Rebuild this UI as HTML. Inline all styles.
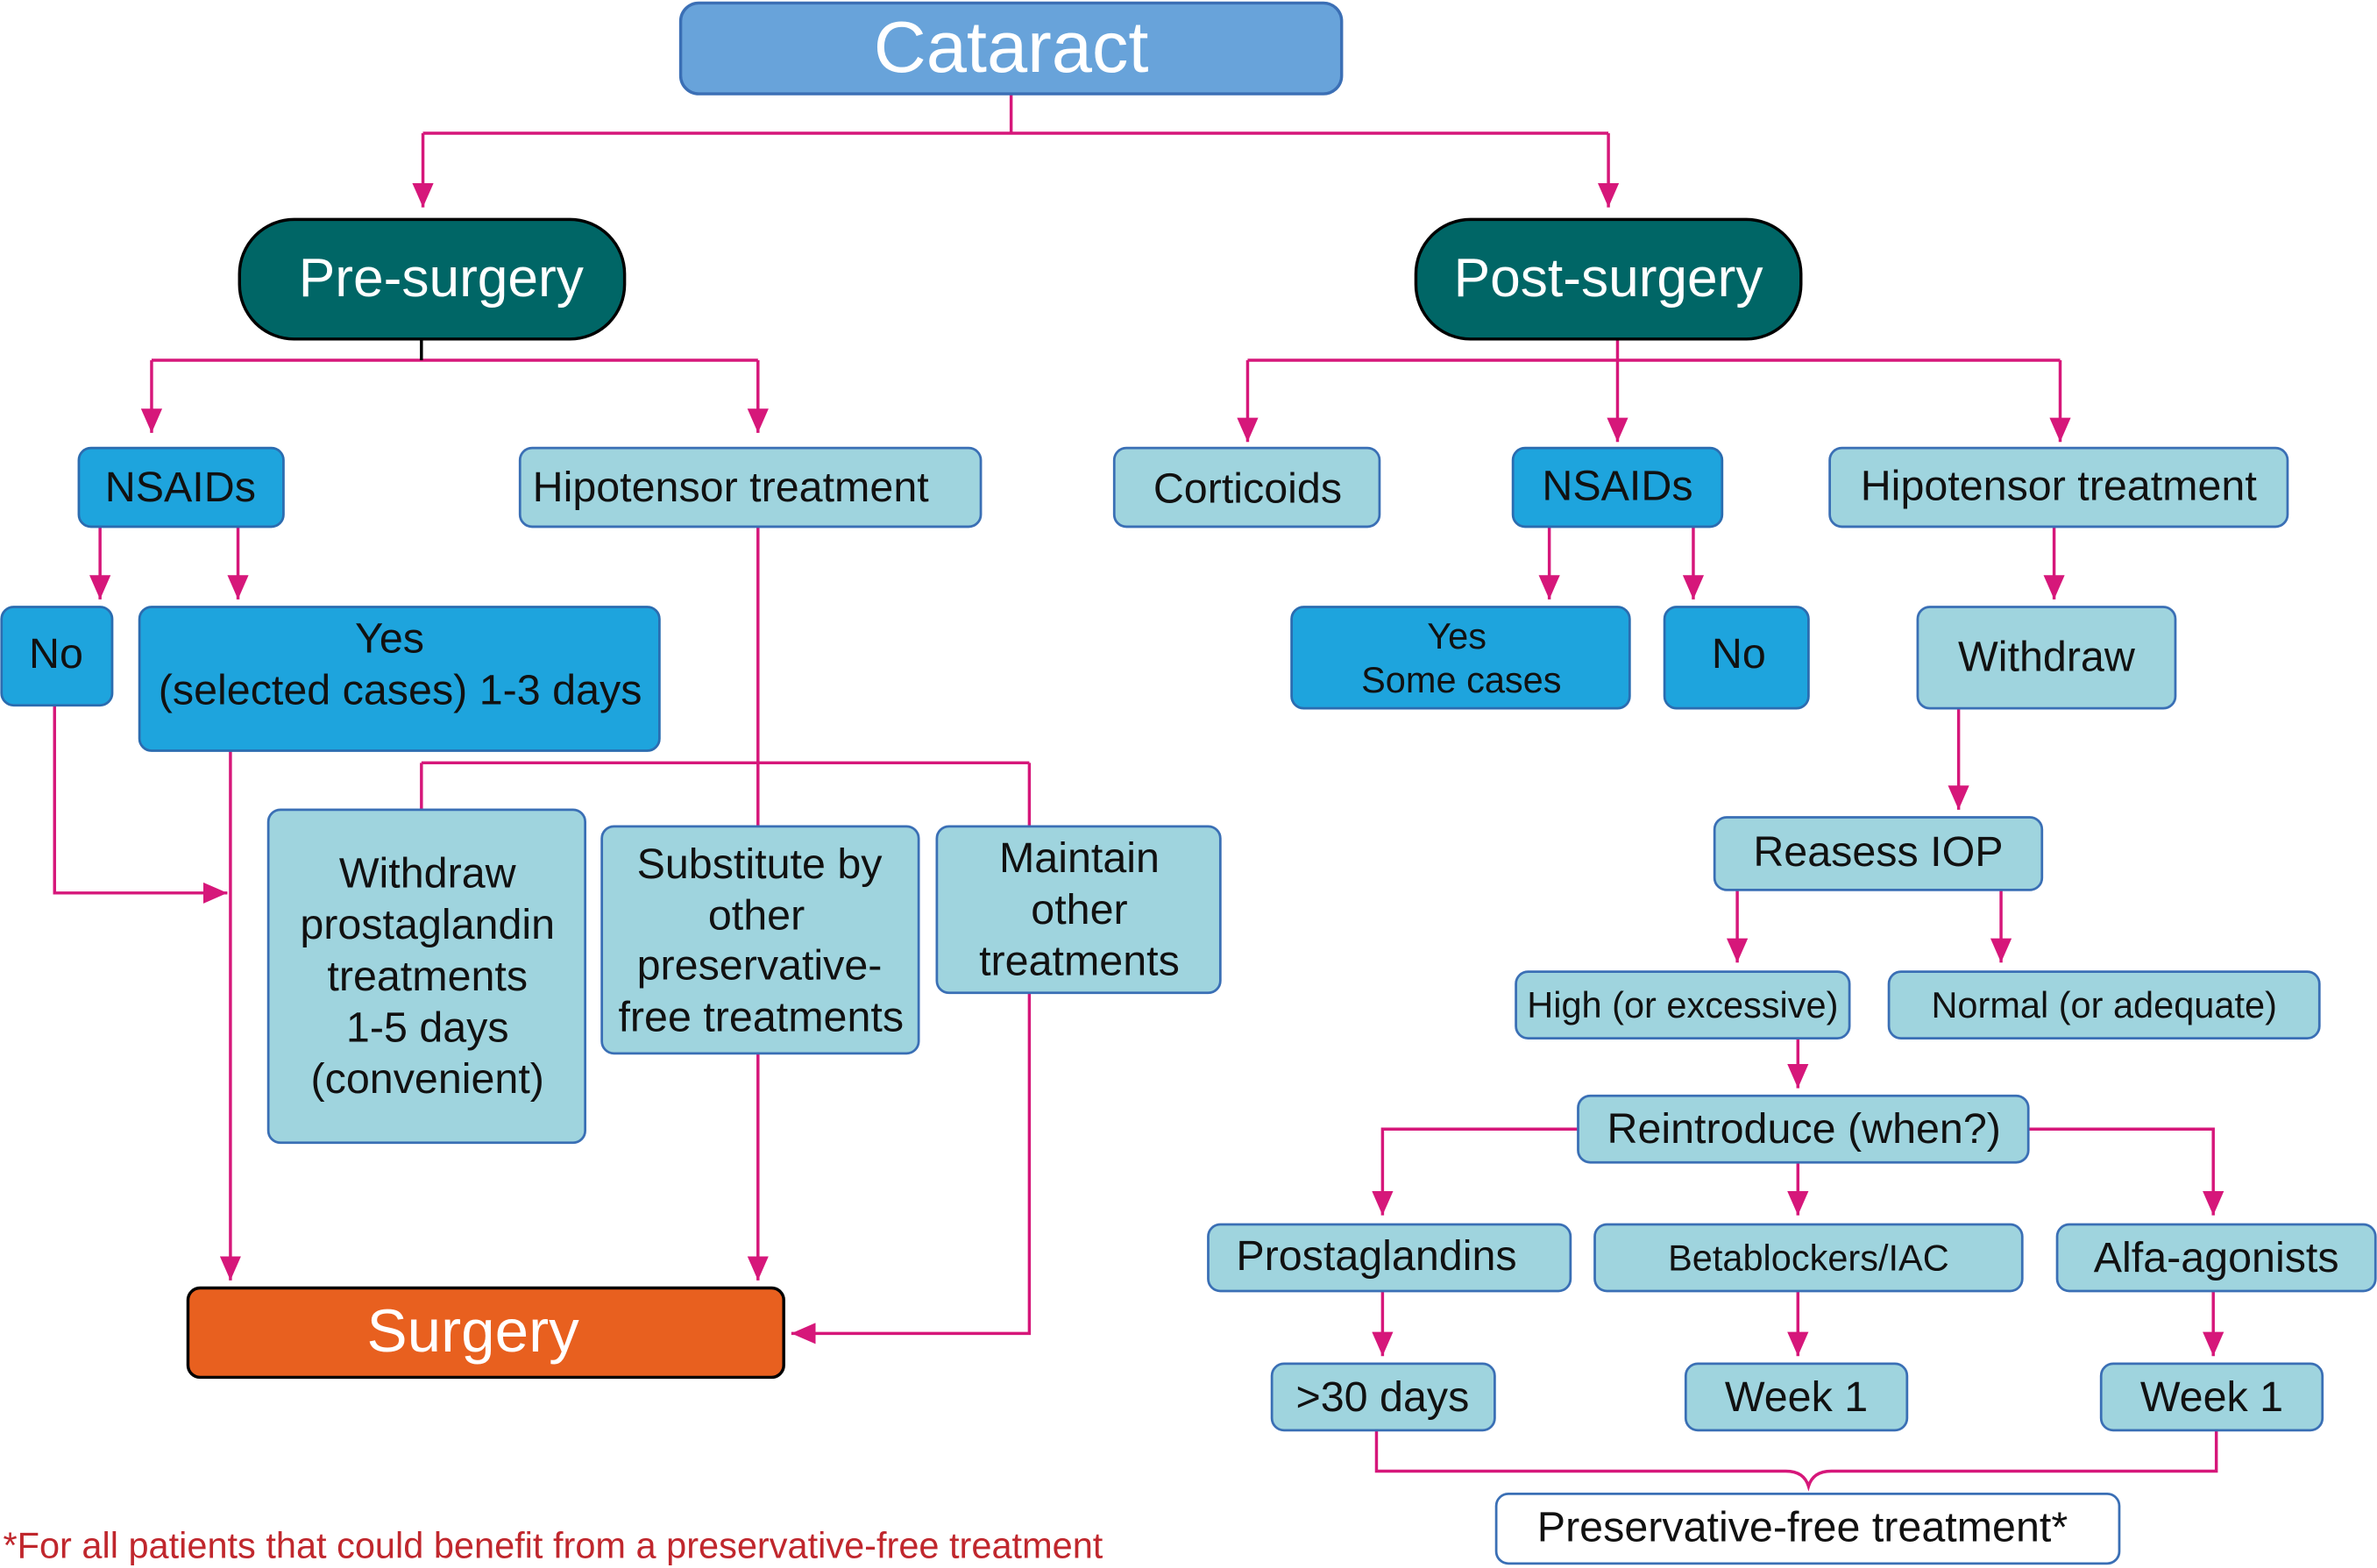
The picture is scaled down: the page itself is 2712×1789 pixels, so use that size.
<!DOCTYPE html>
<html><head><meta charset="utf-8"><style>
html,body{margin:0;padding:0;background:#fff}
svg{display:block}
text{font-family:"Liberation Sans",Arial,sans-serif;text-anchor:middle;dominant-baseline:central}
.l{fill:#9fd4de;stroke:#3a6fb5;stroke-width:1.6}
.b{fill:#1ea4dd;stroke:#2b6cb0;stroke-width:1.6}
.ln{stroke:#d6177a;stroke-width:2;fill:none}
</style></head><body>
<svg width="2712" height="1789" viewBox="0 0 1568 1036" preserveAspectRatio="none" xmlns="http://www.w3.org/2000/svg">
<defs><marker id="a" viewBox="0 0 16 14" refX="16" refY="7" markerWidth="16" markerHeight="14" markerUnits="userSpaceOnUse" orient="auto"><path d="M0,0L16,7L0,14z" fill="#d6177a"/></marker></defs>
<g class="ln">
<path d="M667,62V88M279,88H1061"/>
<path d="M279,88V137" marker-end="url(#a)"/><path d="M1061,88V137" marker-end="url(#a)"/>
<path d="M100,238H500"/>
<path d="M100,238V286" marker-end="url(#a)"/><path d="M500,238V286" marker-end="url(#a)"/>
<path d="M1067,224V238M823,238H1359"/>
<path d="M823,238V292" marker-end="url(#a)"/><path d="M1067,238V292" marker-end="url(#a)"/><path d="M1359,238V292" marker-end="url(#a)"/>
<path d="M66,348V396" marker-end="url(#a)"/><path d="M157,348V396" marker-end="url(#a)"/>
<path d="M36,466V590H150" marker-end="url(#a)"/>
<path d="M152,496V846" marker-end="url(#a)"/>
<path d="M500,348V546M278,504H679M278,504V535M679,504V546"/>
<path d="M500,696V846" marker-end="url(#a)"/>
<path d="M679,656V881H522" marker-end="url(#a)"/>
<path d="M1022,348V396" marker-end="url(#a)"/><path d="M1117,348V396" marker-end="url(#a)"/>
<path d="M1355,348V396" marker-end="url(#a)"/>
<path d="M1292,468V535" marker-end="url(#a)"/>
<path d="M1146,588V636" marker-end="url(#a)"/><path d="M1320,588V636" marker-end="url(#a)"/>
<path d="M1186,686V719" marker-end="url(#a)"/>
<path d="M1041,746H912V803" marker-end="url(#a)"/><path d="M1338,746H1460V803" marker-end="url(#a)"/>
<path d="M1186,768V803" marker-end="url(#a)"/>
<path d="M912,853V896" marker-end="url(#a)"/><path d="M1186,853V896" marker-end="url(#a)"/><path d="M1460,853V896" marker-end="url(#a)"/>
<path d="M908,945V972H1178Q1190,972 1193,982Q1196,972 1208,972H1462V945"/>
</g>
<path d="M278,224V238" stroke="#000" stroke-width="2"/>
<rect x="449" y="2" width="436" height="60" rx="12" fill="#68a3da" stroke="#3b6fb5" stroke-width="2"/>
<text x="667" y="31" font-size="48" fill="#fff">Cataract</text>
<rect x="158" y="145" width="254" height="79" rx="36" fill="#006666" stroke="#000" stroke-width="2"/>
<text x="291" y="184" font-size="36" fill="#fff">Pre-surgery</text>
<rect x="934" y="145" width="254" height="79" rx="36" fill="#006666" stroke="#000" stroke-width="2"/>
<text x="1061" y="184" font-size="36" fill="#fff">Post-surgery</text>
<g font-size="28" fill="#111">
<rect class="b" x="52" y="296" width="135" height="52" rx="8"/><text x="119" y="322">NSAIDs</text>
<rect class="l" x="343" y="296" width="304" height="52" rx="8"/><text x="482" y="322">Hipotensor treatment</text>
<rect class="b" x="1" y="401" width="73" height="65" rx="8"/><text x="37" y="432">No</text>
<rect class="b" x="92" y="401" width="343" height="95" rx="8"/><text x="257" y="422">Yes</text><text x="264" y="456">(selected cases) 1-3 days</text>
<rect class="l" x="177" y="535" width="209" height="220" rx="8"/>
<text x="282" y="577">Withdraw</text><text x="282" y="611">prostaglandin</text><text x="282" y="645">treatments</text><text x="282" y="679">1-5 days</text><text x="282" y="713">(convenient)</text>
<rect class="l" x="397" y="546" width="209" height="150" rx="8"/>
<text x="501" y="571">Substitute by</text><text x="499" y="605">other</text><text x="501" y="638">preservative-</text><text x="502" y="672">free treatments</text>
<rect class="l" x="618" y="546" width="187" height="110" rx="8"/>
<text x="712" y="567">Maintain</text><text x="712" y="601">other</text><text x="712" y="635">treatments</text>
<rect class="l" x="735" y="296" width="175" height="52" rx="8"/><text x="823" y="323">Corticoids</text>
<rect class="b" x="998" y="296" width="138" height="52" rx="8"/><text x="1067" y="321">NSAIDs</text>
<rect class="l" x="1207" y="296" width="302" height="52" rx="8"/><text x="1358" y="321">Hipotensor treatment</text>
<rect class="b" x="852" y="401" width="223" height="67" rx="8"/><text x="961" y="420" font-size="24">Yes</text><text x="964" y="449" font-size="24">Some cases</text>
<rect class="b" x="1098" y="401" width="95" height="67" rx="8"/><text x="1147" y="432">No</text>
<rect class="l" x="1265" y="401" width="170" height="67" rx="8"/><text x="1350" y="434">Withdraw</text>
<rect class="l" x="1131" y="540" width="216" height="48" rx="8"/><text x="1239" y="563">Reasess IOP</text>
<rect class="l" x="1000" y="642" width="220" height="44" rx="8"/><text x="1110" y="664" font-size="24">High (or excessive)</text>
<rect class="l" x="1246" y="642" width="284" height="44" rx="8"/><text x="1388" y="664" font-size="24">Normal (or adequate)</text>
<rect class="l" x="1041" y="724" width="297" height="44" rx="8"/><text x="1190" y="746">Reintroduce (when?)</text>
<rect class="l" x="797" y="809" width="239" height="44" rx="8"/><text x="908" y="830">Prostaglandins</text>
<rect class="l" x="1052" y="809" width="282" height="44" rx="8"/><text x="1193" y="831" font-size="24">Betablockers/IAC</text>
<rect class="l" x="1357" y="809" width="210" height="44" rx="8"/><text x="1462" y="831">Alfa-agonists</text>
<rect class="l" x="839" y="901" width="147" height="44" rx="8"/><text x="912" y="923">&gt;30 days</text>
<rect class="l" x="1112" y="901" width="146" height="44" rx="8"/><text x="1185" y="923">Week 1</text>
<rect class="l" x="1386" y="901" width="146" height="44" rx="8"/><text x="1459" y="923">Week 1</text>
<rect x="987" y="987" width="411" height="46" rx="8" fill="#fff" stroke="#3a6fb5" stroke-width="1.6"/><text x="1189" y="1009">Preservative-free treatment*</text>
</g>
<rect x="124" y="851" width="393" height="59" rx="8" fill="#e8601f" stroke="#000" stroke-width="2"/>
<text x="312" y="879" font-size="40" fill="#fff">Surgery</text>
<text x="2" y="1021" font-size="24" fill="#c0272d" style="text-anchor:start">*For all patients that could benefit from a preservative-free treatment</text>
</svg>
</body></html>
